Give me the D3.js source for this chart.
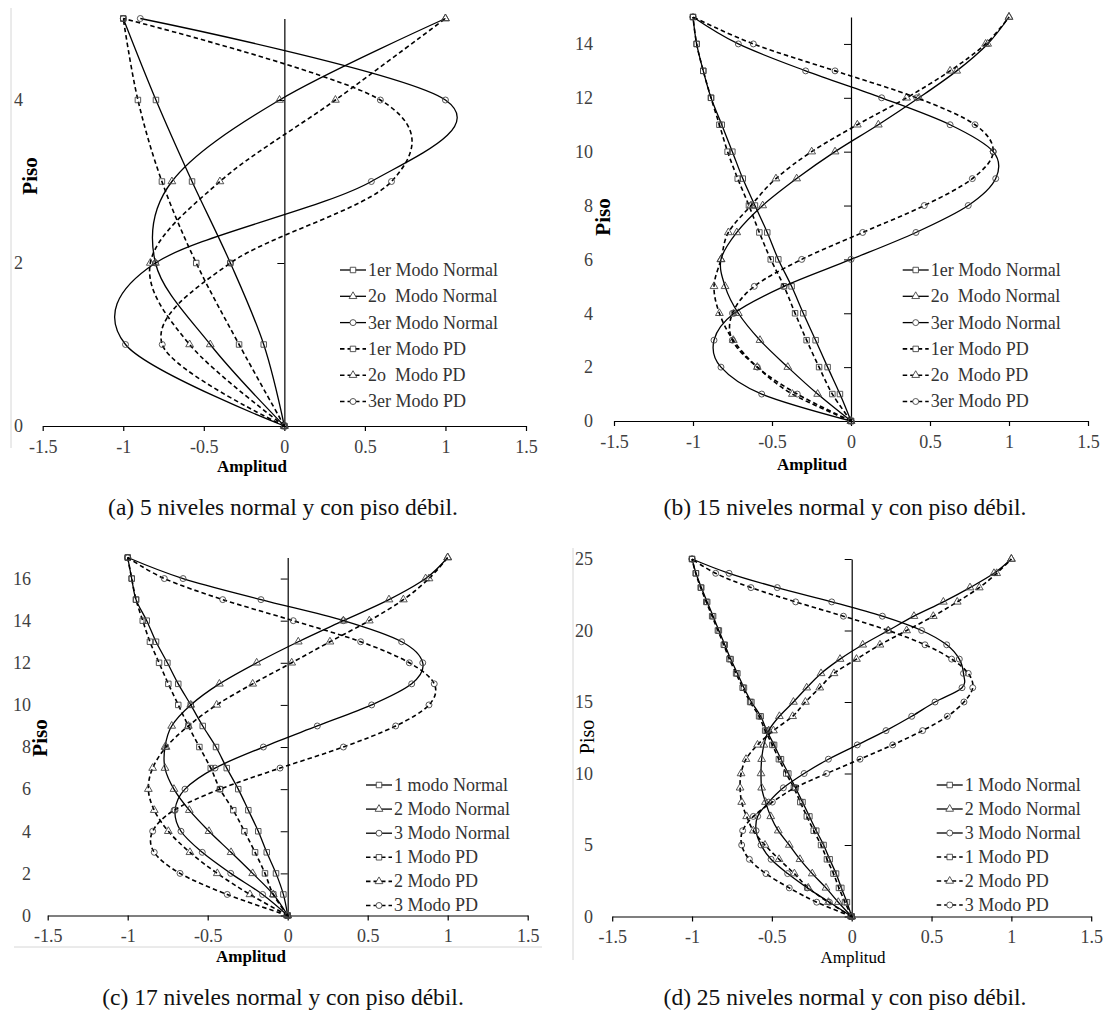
<!DOCTYPE html>
<html><head><meta charset="utf-8">
<script src="https://cdn.jsdelivr.net/npm/d3@7"></script>
<style>body{margin:0;background:#fff}svg{display:block}</style>
</head><body>
<svg id="chart" width="1106" height="1015"></svg>
<script>
// ---------- DATA ----------
// Panel (a) 5 niveles
const pisosA = [0, 1, 2, 3, 4, 5];
const a1N  = [0, -0.128, -0.335, -0.573, -0.797, -1];
const a2N  = [0, -0.46, -0.80, -0.698, -0.03, 1];
const a3N  = [0, -0.986, -0.80, 0.54, 1.0, -0.894];
const a1PD = [0, -0.281, -0.547, -0.76, -0.909, -1];
const a2PD = [0, -0.588, -0.832, -0.40, 0.317, 1];
const a3PD = [0, -0.758, -0.335, 0.665, 0.596, -1];

// Panel (b) 15 niveles
const pisosB = [0, 1, 2, 3, 4, 5, 6, 7, 8, 9, 10, 11, 12, 13, 14, 15];
const b1N  = [0, -0.07, -0.148, -0.224, -0.302, -0.376, -0.46, -0.53, -0.608, -0.685, -0.751, -0.818, -0.886, -0.935, -0.977, -1];
const b2N  = [0, -0.211, -0.40, -0.576, -0.713, -0.797, -0.823, -0.723, -0.559, -0.344, -0.101, 0.173, 0.43, 0.669, 0.865, 1];
const b3N  = [0, -0.565, -0.823, -0.867, -0.74, -0.424, 0.0, 0.411, 0.742, 0.916, 0.90, 0.627, 0.194, -0.287, -0.713, -1];
const b1PD = [0, -0.118, -0.202, -0.281, -0.354, -0.424, -0.508, -0.58, -0.646, -0.717, -0.781, -0.833, -0.886, -0.935, -0.977, -1];
const b2PD = [0, -0.371, -0.593, -0.745, -0.833, -0.867, -0.823, -0.776, -0.633, -0.475, -0.249, 0.04, 0.352, 0.627, 0.852, 1];
const b3PD = [0, -0.34, -0.593, -0.751, -0.75, -0.612, -0.312, 0.074, 0.464, 0.768, 0.90, 0.785, 0.416, -0.101, -0.618, -1];

// Panel (c) 17 niveles
const pisosC = [0, 1, 2, 3, 4, 5, 6, 7, 8, 9, 10, 11, 12, 13, 14, 15, 16, 17];
const c1N  = [0, -0.027, -0.073, -0.131, -0.184, -0.246, -0.309, -0.381, -0.448, -0.531, -0.606, -0.684, -0.752, -0.823, -0.881, -0.948, -0.975, -1];
const c2N  = [0, -0.09, -0.219, -0.354, -0.492, -0.615, -0.711, -0.767, -0.767, -0.725, -0.606, -0.427, -0.194, 0.066, 0.348, 0.633, 0.862, 1];
const c3N  = [0, -0.157, -0.356, -0.534, -0.667, -0.704, -0.642, -0.454, -0.152, 0.185, 0.525, 0.775, 0.844, 0.712, 0.348, -0.167, -0.654, -1];
const c1PD = [0, -0.09, -0.142, -0.204, -0.271, -0.34, -0.423, -0.481, -0.552, -0.621, -0.684, -0.746, -0.804, -0.861, -0.906, -0.948, -0.975, -1];
const c2PD = [0, -0.236, -0.44, -0.611, -0.746, -0.834, -0.871, -0.844, -0.76, -0.621, -0.444, -0.219, 0.025, 0.264, 0.51, 0.723, 0.883, 1];
const c3PD = [0, -0.378, -0.673, -0.834, -0.844, -0.71, -0.423, -0.048, 0.348, 0.675, 0.883, 0.916, 0.76, 0.456, 0.035, -0.406, -0.771, -1];

// Panel (d) 25 niveles
const pisosD = [0, 1, 2, 3, 4, 5, 6, 7, 8, 9, 10, 11, 12, 13, 14, 15, 16, 17, 18, 19, 20, 21, 22, 23, 24, 25];
const d1N  = [0, -0.03, -0.065, -0.098, -0.138, -0.176, -0.222, -0.265, -0.308, -0.352, -0.397, -0.443, -0.486, -0.532, -0.57, -0.628, -0.675, -0.716, -0.758, -0.795, -0.832, -0.868, -0.905, -0.942, -0.975, -1];
const d2N  = [0, -0.084, -0.161, -0.247, -0.324, -0.391, -0.46, -0.507, -0.54, -0.564, -0.568, -0.564, -0.55, -0.52, -0.453, -0.365, -0.282, -0.192, -0.073, 0.069, 0.229, 0.39, 0.574, 0.741, 0.891, 1];
const d3N  = [0, -0.14, -0.278, -0.401, -0.505, -0.568, -0.599, -0.589, -0.52, -0.428, -0.298, -0.146, 0.035, 0.215, 0.376, 0.522, 0.691, 0.70, 0.674, 0.595, 0.438, 0.192, -0.125, -0.466, -0.768, -1];
const d1PD = [0, -0.042, -0.08, -0.114, -0.155, -0.192, -0.238, -0.281, -0.322, -0.362, -0.41, -0.456, -0.497, -0.542, -0.58, -0.636, -0.683, -0.724, -0.766, -0.801, -0.838, -0.874, -0.911, -0.946, -0.977, -1];
const d2PD = [0, -0.146, -0.272, -0.359, -0.455, -0.543, -0.616, -0.658, -0.689, -0.699, -0.693, -0.662, -0.59, -0.49, -0.37, -0.29, -0.2, -0.111, 0.03, 0.177, 0.344, 0.511, 0.661, 0.799, 0.908, 1];
const d3PD = [0, -0.219, -0.391, -0.537, -0.641, -0.689, -0.683, -0.616, -0.497, -0.355, -0.157, 0.052, 0.257, 0.444, 0.599, 0.703, 0.758, 0.73, 0.626, 0.459, 0.229, -0.052, -0.351, -0.631, -0.852, -1];

// Ticks & labels
const xTicks = [-1.5, -1, -0.5, 0, 0.5, 1, 1.5];
const yTicksA = [0, 2, 4];
const yTicksB = [0, 2, 4, 6, 8, 10, 12, 14];
const yTicksC = [0, 2, 4, 6, 8, 10, 12, 14, 16];
const yTicksD = [0, 5, 10, 15, 20, 25];
const legendAB = ["1er Modo Normal", "2o  Modo Normal", "3er Modo Normal", "1er Modo PD", "2o  Modo PD", "3er Modo PD"];
const legendC = ["1 modo Normal", "2 Modo Normal", "3 Modo Normal", "1 Modo PD", "2 Modo PD", "3 Modo PD"];
const legendD = ["1 Modo Normal", "2 Modo Normal", "3 Modo Normal", "1 Modo PD", "2 Modo PD", "3 Modo PD"];
const captions = ["(a) 5 niveles normal y con piso débil.", "(b) 15 niveles normal y con piso débil.",
                  "(c) 17 niveles normal y con piso débil.", "(d) 25 niveles normal y con piso débil."];
const xTitle = "Amplitud", yTitle = "Piso";

// ---------- LAYOUT ----------
const panels = [
  {floors: pisosA, series: [a1N, a2N, a3N, a1PD, a2PD, a3PD], legend: legendAB, yTicks: yTicksA, ymax: 5,
   xr: [42.7, 526], yr: [426, 18.5], yLabX: 23, legX: 340, legY: 270, legDy: 26.3, bold: true,
   xt: [252, 466], yt: [30, 176], cap: [283, 507], caption: captions[0],
   borders: [{x1: 11, y1: 8, x2: 11, y2: 448}]},
  {floors: pisosB, series: [b1N, b2N, b3N, b1PD, b2PD, b3PD], legend: legendAB, yTicks: yTicksB, ymax: 15,
   xr: [614, 1088], yr: [421, 17], yLabX: 593, legX: 902.7, legY: 270, legDy: 26.3, bold: true,
   xt: [812, 464], yt: [603, 217], cap: [845, 507], caption: captions[1], borders: []},
  {floors: pisosC, series: [c1N, c2N, c3N, c1PD, c2PD, c3PD], legend: legendC, yTicks: yTicksC, ymax: 17,
   xr: [47.7, 527.7], yr: [915.5, 557.5], yLabX: 31, legX: 366, legY: 785, legDy: 24.1, bold: true,
   xt: [251, 956], yt: [40, 738], cap: [283, 997], caption: captions[2],
   borders: [{x1: 14, y1: 947, x2: 542, y2: 947}]},
  {floors: pisosD, series: [d1N, d2N, d3N, d1PD, d2PD, d3PD], legend: legendD, yTicks: yTicksD, ymax: 25,
   xr: [612.2, 1091.2], yr: [916.5, 559], yLabX: 593, legX: 936.7, legY: 785, legDy: 24, bold: false,
   xt: [853, 957], yt: [587, 737], cap: [845, 997], caption: captions[3],
   borders: [{x1: 573, y1: 548, x2: 573, y2: 960}]}
];

const FONT = "'Liberation Serif', 'Times New Roman', serif";
const svg = d3.select("#chart");
const symTypes = [d3.symbolSquare, d3.symbolTriangle, d3.symbolCircle];
const symSizes = [30, 26, 28];
const fmt = d => String(d);

panels.forEach(p => {
  const g = svg.append("g");
  const x = d3.scaleLinear().domain([-1.5, 1.5]).range(p.xr);
  const y = d3.scaleLinear().domain([0, p.ymax]).range(p.yr);

  p.borders.forEach(b => {
    g.append("line").attr("x1", b.x1).attr("y1", b.y1).attr("x2", b.x2).attr("y2", b.y2)
      .attr("stroke", "#d6d6d6").attr("stroke-width", 1);
  });

  // x axis at y = 0
  const xa = g.append("g").attr("transform", `translate(0,${y(0)})`)
    .call(d3.axisBottom(x).tickValues(xTicks).tickSize(5).tickSizeOuter(0).tickPadding(9).tickFormat(fmt));
  xa.select(".domain").attr("stroke", "#000").attr("stroke-width", 1.2);
  xa.selectAll(".tick line").attr("stroke", "#000").attr("stroke-width", 1.2);
  xa.selectAll("text").attr("font-family", FONT).attr("font-size", 18).attr("fill", "#404040");

  // y axis line at x = 0 (ticks only)
  const ya = g.append("g").attr("transform", `translate(${x(0)},0)`)
    .call(d3.axisLeft(y).tickValues(p.yTicks).tickSize(7).tickSizeOuter(0).tickFormat(""));
  ya.select(".domain").attr("stroke", "#000").attr("stroke-width", 1.2);
  ya.selectAll(".tick line").attr("stroke", "#000").attr("stroke-width", 1);

  // y tick labels at far left
  const yl = g.append("g").attr("transform", `translate(${p.yLabX},0)`)
    .call(d3.axisLeft(y).tickValues(p.yTicks).tickSize(0).tickPadding(0).tickFormat(fmt));
  yl.select(".domain").remove();
  yl.selectAll("text").attr("font-family", FONT).attr("font-size", 18).attr("fill", "#404040");

  // series
  const line = d3.line().x(d => x(d[0])).y(d => y(d[1])).curve(d3.curveCardinal.tension(0));
  p.series.forEach((vals, i) => {
    const pts = vals.map((v, k) => [v, p.floors[k]]);
    g.append("path").attr("d", line(pts)).attr("fill", "none").attr("stroke", "#000")
      .attr("stroke-width", i < 3 ? 1.3 : 1.6).attr("stroke-dasharray", i < 3 ? null : "4.5,3");
    const sym = d3.symbol().type(symTypes[i % 3]).size(symSizes[i % 3]);
    g.selectAll(null).data(pts).join("path")
      .attr("transform", d => `translate(${x(d[0])},${y(d[1])})`)
      .attr("d", sym).attr("fill", "none").attr("stroke", "#444").attr("stroke-width", 0.9);
  });

  // legend
  p.legend.forEach((txt, i) => {
    const ly = p.legY + i * p.legDy;
    const lg = g.append("g");
    lg.append("line").attr("x1", p.legX).attr("x2", p.legX + 26).attr("y1", ly).attr("y2", ly)
      .attr("stroke", "#000").attr("stroke-width", i < 3 ? 1.3 : 1.6).attr("stroke-dasharray", i < 3 ? null : "4.5,3");
    lg.append("path").attr("transform", `translate(${p.legX + 13},${ly})`)
      .attr("d", d3.symbol().type(symTypes[i % 3]).size(symSizes[i % 3]))
      .attr("fill", "#fff").attr("stroke", "#444").attr("stroke-width", 0.9);
    lg.append("text").attr("x", p.legX + 28).attr("y", ly).attr("dy", "0.33em")
      .attr("font-family", FONT).attr("font-size", 18).attr("fill", "#333")
      .style("white-space", "pre").text(txt);
  });

  // axis titles
  g.append("text").attr("x", p.xt[0]).attr("y", p.xt[1]).attr("dy", "0.33em").attr("text-anchor", "middle")
    .attr("font-family", FONT).attr("font-size", 17).attr("font-weight", p.bold ? "bold" : "normal")
    .attr("fill", "#000").text(xTitle);
  g.append("text").attr("transform", `translate(${p.yt[0]},${p.yt[1]}) rotate(-90)`).attr("dy", "0.33em")
    .attr("text-anchor", "middle").attr("font-family", FONT).attr("font-size", p.bold ? 21 : 20)
    .attr("font-weight", p.bold ? "bold" : "normal").attr("fill", "#000").text(yTitle);

  // caption
  g.append("text").attr("x", p.cap[0]).attr("y", p.cap[1]).attr("dy", "0.33em").attr("text-anchor", "middle")
    .attr("font-family", FONT).attr("font-size", 23.5).attr("fill", "#111").text(p.caption);
});
</script>
</body></html>
